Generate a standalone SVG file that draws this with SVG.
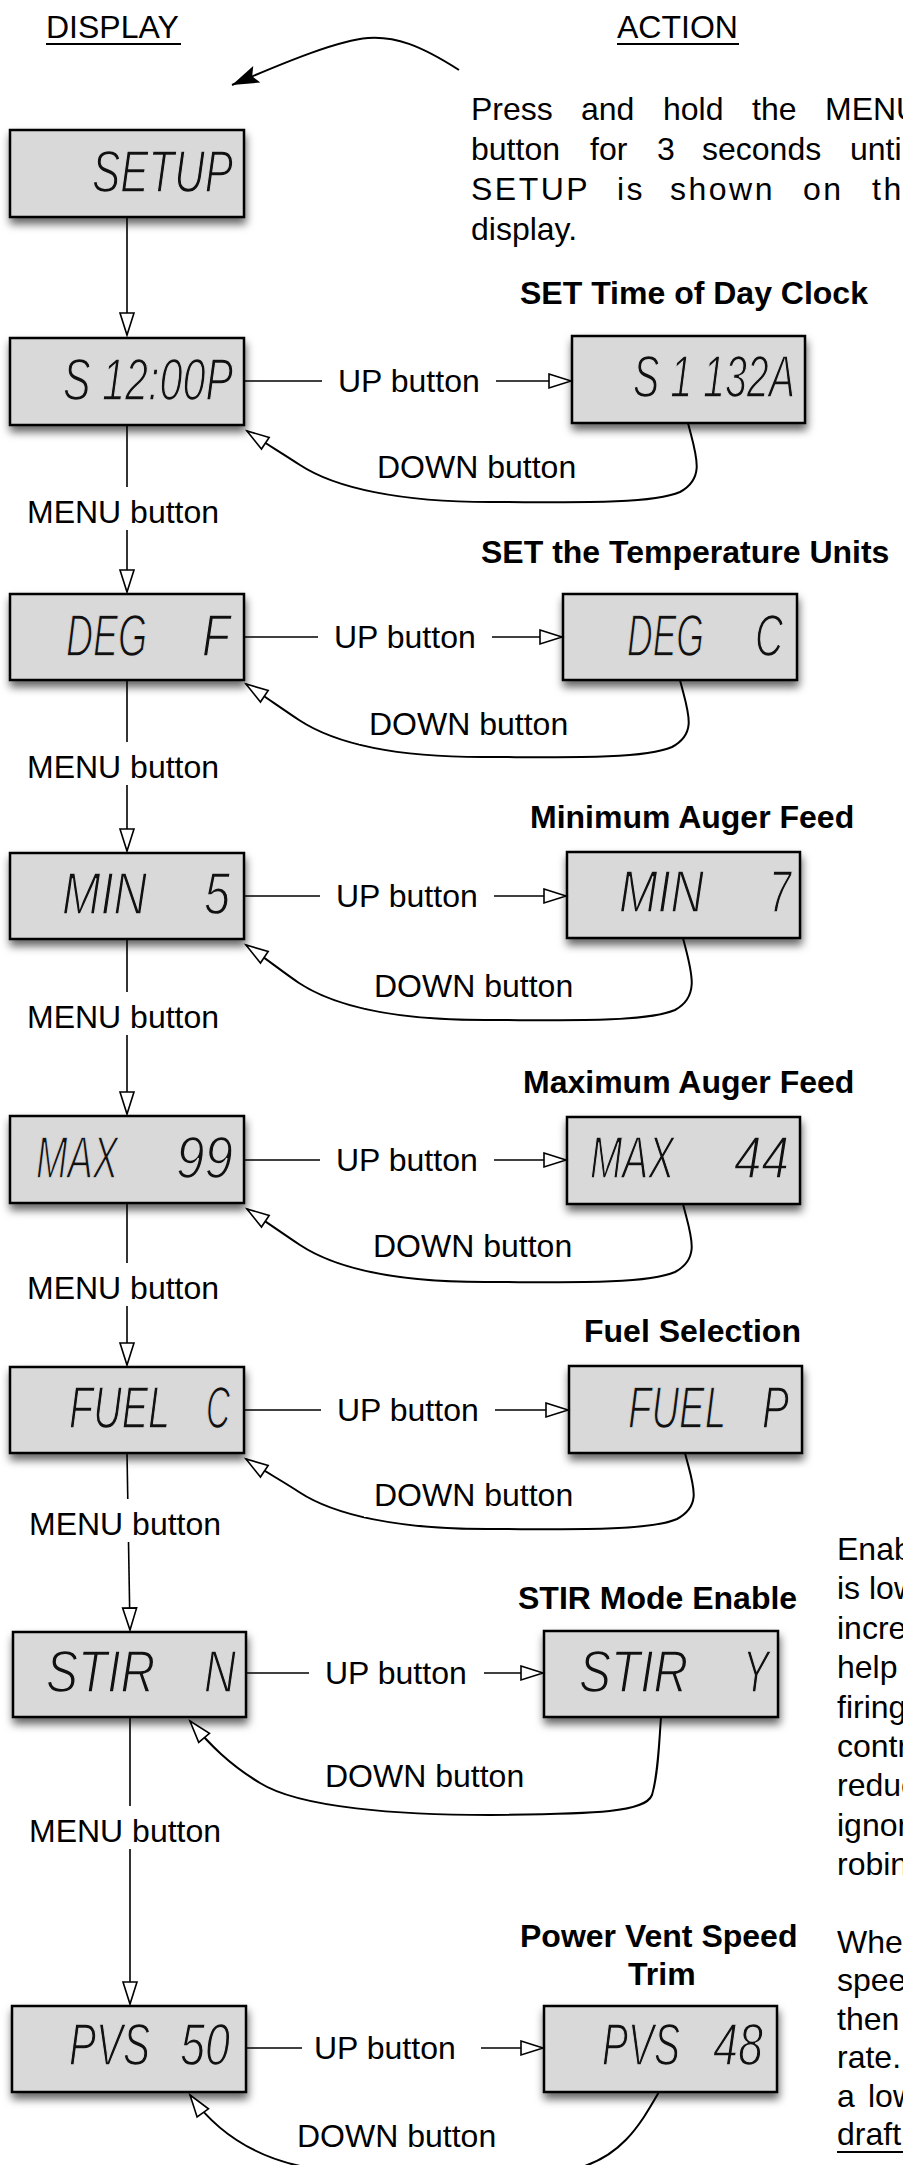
<svg xmlns="http://www.w3.org/2000/svg" width="903" height="2165" viewBox="0 0 903 2165">
<style>
.box{fill:#d9d9d9;stroke:#000;stroke-width:2.5;filter:url(#sh)}
.lcd{font-family:"Liberation Sans",Arial,sans-serif;font-style:italic;font-size:60px;fill:#111;stroke:#d9d9d9;stroke-width:1.5}
.lbl{font-family:"Liberation Sans",Arial,Helvetica,sans-serif;font-size:32px;fill:#000}
.ttl{font-family:"Liberation Sans",Arial,Helvetica,sans-serif;font-size:32px;font-weight:bold;fill:#000}
.ln{fill:none;stroke:#000;stroke-width:1.6}
.cv{fill:none;stroke:#000;stroke-width:2}
.arr{marker-end:url(#oa)}
.bg{fill:#fff}
.ul{stroke:#000;stroke-width:2}
</style>
<defs>
<filter id="sh" x="-10%" y="-15%" width="125%" height="150%">
<feDropShadow dx="1" dy="6" stdDeviation="4" flood-color="#000" flood-opacity="0.6"/>
</filter>
<marker id="oa" markerUnits="userSpaceOnUse" markerWidth="26" markerHeight="18" refX="23" refY="8" orient="auto" overflow="visible">
<path d="M1,1 L23,8 L1,15 Z" fill="#fff" stroke="#000" stroke-width="1.6"/>
</marker>
<marker id="fa" markerUnits="userSpaceOnUse" markerWidth="30" markerHeight="20" refX="27" refY="9" orient="auto" overflow="visible">
<path d="M0,0 L27,9 L0,18 L5,9 Z" fill="#000"/>
</marker>
</defs>

<!-- headings and notes -->
<g id="header">
<text class="lbl" x="46" y="38">DISPLAY</text>
<line class="ul" x1="46" y1="44" x2="181" y2="44"/>
<text class="lbl" x="617" y="38">ACTION</text>
<line class="ul" x1="617" y1="44" x2="739" y2="44"/>
<path d="M459,70 C420,45 395,36 368,38 C340,40 290,60 232,85" fill="none" stroke="#000" stroke-width="2" marker-end="url(#fa)"/>
<text class="lbl" y="120"><tspan x="471">Press</tspan><tspan x="581">and</tspan><tspan x="663">hold</tspan><tspan x="752">the</tspan><tspan x="825">MENU</tspan></text>
<text class="lbl" y="160"><tspan x="471">button</tspan><tspan x="590">for</tspan><tspan x="657">3</tspan><tspan x="702">seconds</tspan><tspan x="850">until</tspan></text>
<text class="lbl" y="200" letter-spacing="2.5"><tspan x="471">SETUP</tspan><tspan x="617">is</tspan><tspan x="670">shown</tspan><tspan x="803">on</tspan><tspan x="872">the</tspan></text>
<text class="lbl" x="471" y="240">display.</text>
</g>

<g id="titles">
<text class="ttl" x="520" y="304">SET Time of Day Clock</text>
<text class="ttl" x="481" y="563">SET the Temperature Units</text>
<text class="ttl" x="530" y="828">Minimum Auger Feed</text>
<text class="ttl" x="523" y="1093">Maximum Auger Feed</text>
<text class="ttl" x="584" y="1342">Fuel Selection</text>
<text class="ttl" x="518" y="1609">STIR Mode Enable</text>
<text class="ttl" x="520" y="1947">Power Vent Speed</text>
<text class="ttl" x="628" y="1985">Trim</text>
</g>

<g id="notes">
<text class="lbl" x="837" y="1560">Enable</text>
<text class="lbl" x="837" y="1599">is low</text>
<text class="lbl" x="837" y="1639">increase</text>
<text class="lbl" x="837" y="1678">help</text>
<text class="lbl" x="837" y="1718">firing</text>
<text class="lbl" x="837" y="1757">control</text>
<text class="lbl" x="837" y="1796">reduce</text>
<text class="lbl" x="837" y="1836">ignore</text>
<text class="lbl" x="837" y="1875">robin</text>
<text class="lbl" x="837" y="1953">When</text>
<text class="lbl" x="837" y="1991">speed</text>
<text class="lbl" x="837" y="2030">then</text>
<text class="lbl" x="837" y="2068">rate.</text>
<text class="lbl" y="2107"><tspan x="837">a</tspan><tspan x="868">low</tspan></text>
<text class="lbl" x="837" y="2145">draft</text>
<line class="ul" x1="837" y1="2152" x2="903" y2="2152"/>
</g>

<!-- nodes -->
<g id="n-setup"><rect class="box" x="10" y="130" width="234" height="87"/><text class="lcd" x="92" y="192" textLength="141" lengthAdjust="spacingAndGlyphs">SETUP</text></g>

<g id="n-clock-1200p"><rect class="box" x="10" y="338" width="234" height="87"/><text class="lcd" x="63" y="400" textLength="170" lengthAdjust="spacingAndGlyphs">S 12:00P</text></g>
<g id="n-clock-1132a"><rect class="box" x="572" y="336" width="233" height="87"/><text class="lcd" x="633" y="397" textLength="162" lengthAdjust="spacingAndGlyphs">S 1 132A</text></g>

<g id="n-deg-f"><rect class="box" x="10" y="594" width="234" height="86"/><text class="lcd" x="66" y="656" textLength="81" lengthAdjust="spacingAndGlyphs">DEG</text><text class="lcd" x="202" y="656" textLength="28" lengthAdjust="spacingAndGlyphs">F</text></g>
<g id="n-deg-c"><rect class="box" x="563" y="594" width="234" height="86"/><text class="lcd" x="627" y="656" textLength="77" lengthAdjust="spacingAndGlyphs">DEG</text><text class="lcd" x="755" y="656" textLength="28" lengthAdjust="spacingAndGlyphs">C</text></g>

<g id="n-min-5"><rect class="box" x="10" y="853" width="234" height="86"/><text class="lcd" x="62" y="914" textLength="85" lengthAdjust="spacingAndGlyphs">MIN</text><text class="lcd" x="204" y="914" textLength="26" lengthAdjust="spacingAndGlyphs">5</text></g>
<g id="n-min-7"><rect class="box" x="567" y="852" width="233" height="86"/><text class="lcd" x="619" y="912" textLength="85" lengthAdjust="spacingAndGlyphs">MIN</text><text class="lcd" x="769" y="912" textLength="22" lengthAdjust="spacingAndGlyphs">7</text></g>

<g id="n-max-99"><rect class="box" x="10" y="1116" width="234" height="87"/><text class="lcd" x="36" y="1178" textLength="82" lengthAdjust="spacingAndGlyphs">MAX</text><text class="lcd" x="176" y="1178" textLength="57" lengthAdjust="spacingAndGlyphs">99</text></g>
<g id="n-max-44"><rect class="box" x="567" y="1117" width="233" height="87"/><text class="lcd" x="590" y="1178" textLength="84" lengthAdjust="spacingAndGlyphs">MAX</text><text class="lcd" x="734" y="1178" textLength="55" lengthAdjust="spacingAndGlyphs">44</text></g>

<g id="n-fuel-c"><rect class="box" x="10" y="1367" width="234" height="86"/><text class="lcd" x="69" y="1428" textLength="101" lengthAdjust="spacingAndGlyphs">FUEL</text><text class="lcd" x="206" y="1428" textLength="24" lengthAdjust="spacingAndGlyphs">C</text></g>
<g id="n-fuel-p"><rect class="box" x="569" y="1366" width="233" height="87"/><text class="lcd" x="628" y="1428" textLength="98" lengthAdjust="spacingAndGlyphs">FUEL</text><text class="lcd" x="762" y="1428" textLength="27" lengthAdjust="spacingAndGlyphs">P</text></g>

<g id="n-stir-n"><rect class="box" x="13" y="1632" width="233" height="85"/><text class="lcd" x="46" y="1692" textLength="109" lengthAdjust="spacingAndGlyphs">STIR</text><text class="lcd" x="204" y="1692" textLength="32" lengthAdjust="spacingAndGlyphs">N</text></g>
<g id="n-stir-y"><rect class="box" x="544" y="1631" width="234" height="86"/><text class="lcd" x="579" y="1692" textLength="109" lengthAdjust="spacingAndGlyphs">STIR</text><text class="lcd" x="743" y="1692" textLength="26" lengthAdjust="spacingAndGlyphs">Y</text></g>

<g id="n-pvs-50"><rect class="box" x="12" y="2006" width="234" height="86"/><text class="lcd" x="69" y="2065" textLength="81" lengthAdjust="spacingAndGlyphs">PVS</text><text class="lcd" x="180" y="2065" textLength="50" lengthAdjust="spacingAndGlyphs">50</text></g>
<g id="n-pvs-48"><rect class="box" x="544" y="2006" width="233" height="86"/><text class="lcd" x="602" y="2065" textLength="78" lengthAdjust="spacingAndGlyphs">PVS</text><text class="lcd" x="713" y="2065" textLength="50" lengthAdjust="spacingAndGlyphs">48</text></g>

<!-- connectors -->
<g id="connectors">
<!-- vertical MENU flow -->
<path class="ln arr" d="M127,217 L127,335"/>
<path class="ln arr" d="M127,425 L127,592"/>
<rect class="bg" x="24" y="487" width="204" height="43"/>
<text class="lbl" x="27" y="523">MENU button</text>
<path class="ln arr" d="M127,680 L127,851"/>
<rect class="bg" x="24" y="742" width="204" height="43"/>
<text class="lbl" x="27" y="778">MENU button</text>
<path class="ln arr" d="M127,939 L127,1114"/>
<rect class="bg" x="24" y="992" width="204" height="43"/>
<text class="lbl" x="27" y="1028">MENU button</text>
<path class="ln arr" d="M127,1203 L127,1365"/>
<rect class="bg" x="24" y="1263" width="204" height="43"/>
<text class="lbl" x="27" y="1299">MENU button</text>
<path class="ln arr" d="M127,1453 L130,1630"/>
<rect class="bg" x="26" y="1499" width="204" height="43"/>
<text class="lbl" x="29" y="1535">MENU button</text>
<path class="ln arr" d="M130,1717 L130,2004"/>
<rect class="bg" x="26" y="1806" width="204" height="43"/>
<text class="lbl" x="29" y="1842">MENU button</text>

<!-- UP button edges -->
<path class="ln" d="M244,381 L322,381"/><text class="lbl" x="338" y="392">UP button</text><path class="ln arr" d="M496,381 L571,381"/>
<path class="ln" d="M244,637 L318,637"/><text class="lbl" x="334" y="648">UP button</text><path class="ln arr" d="M492,637 L562,637"/>
<path class="ln" d="M244,896 L320,896"/><text class="lbl" x="336" y="907">UP button</text><path class="ln arr" d="M494,896 L566,896"/>
<path class="ln" d="M244,1160 L320,1160"/><text class="lbl" x="336" y="1171">UP button</text><path class="ln arr" d="M494,1160 L566,1160"/>
<path class="ln" d="M244,1410 L321,1410"/><text class="lbl" x="337" y="1421">UP button</text><path class="ln arr" d="M495,1410 L568,1410"/>
<path class="ln" d="M246,1673 L309,1673"/><text class="lbl" x="325" y="1684">UP button</text><path class="ln arr" d="M484,1673 L543,1673"/>
<path class="ln" d="M246,2048 L302,2048"/><text class="lbl" x="314" y="2059">UP button</text><path class="ln arr" d="M481,2048 L543,2048"/>

<!-- DOWN button edges -->
<path class="cv arr" d="M688,423 C696,455 706,478 680,492 C650,505 560,502 490,502 C400,502 335,488 300,465 C285,455 265,443 247,431"/>
<rect class="bg" x="367" y="443" width="226" height="45"/>
<text class="lbl" x="377" y="478">DOWN button</text>

<path class="cv arr" d="M680,680 C688,712 698,733 672,747 C642,760 552,757 482,757 C392,757 334,743 299,720 C284,710 264,696 246,684"/>
<rect class="bg" x="359" y="699" width="223" height="45"/>
<text class="lbl" x="369" y="735">DOWN button</text>

<path class="cv arr" d="M683,938 C691,970 701,996 675,1010 C645,1023 555,1020 485,1020 C395,1020 334,1006 299,983 C284,973 264,957 246,945"/>
<rect class="bg" x="364" y="963" width="226" height="45"/>
<text class="lbl" x="374" y="997">DOWN button</text>

<path class="cv arr" d="M683,1204 C691,1236 701,1258 675,1272 C645,1285 555,1282 485,1282 C395,1282 335,1268 300,1245 C285,1235 265,1221 247,1209"/>
<rect class="bg" x="363" y="1223" width="224" height="45"/>
<text class="lbl" x="373" y="1257">DOWN button</text>

<path class="cv arr" d="M685,1453 C693,1485 703,1505 677,1519 C647,1532 557,1529 487,1529 C397,1529 334,1515 299,1492 C284,1482 264,1471 246,1459"/>
<rect class="bg" x="364" y="1472" width="226" height="45"/>
<text class="lbl" x="374" y="1506">DOWN button</text>

<path class="cv arr" d="M661,1717 C659,1745 658,1775 652,1795 C645,1812 600,1814 490,1815 C400,1815 300,1808 260,1783 C230,1765 210,1745 190,1721"/>
<text class="lbl" x="325" y="1787">DOWN button</text>

<path class="cv arr" d="M659,2092 C640,2125 620,2160 570,2170 C480,2180 360,2177 300,2166 C250,2155 215,2130 190,2095"/>
<text class="lbl" x="297" y="2147">DOWN button</text>
</g>
</svg>
